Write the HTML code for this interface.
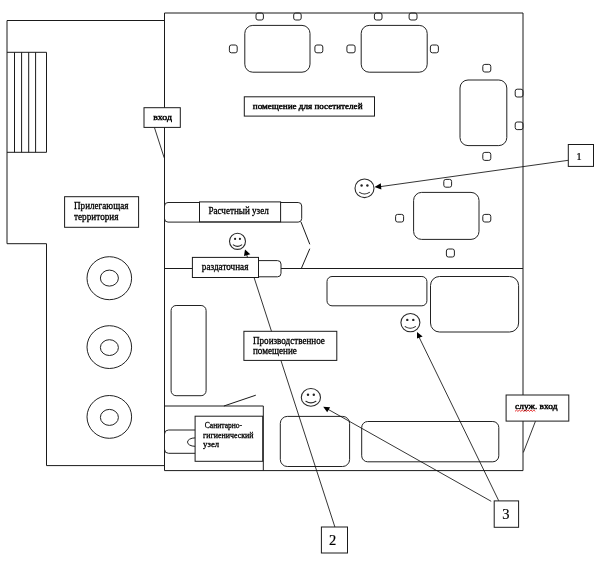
<!DOCTYPE html>
<html lang="ru">
<head>
<meta charset="utf-8">
<title>План</title>
<style>
html,body{margin:0;padding:0;background:#fff;}
body{width:600px;height:562px;overflow:hidden;}
svg{display:block;will-change:transform;transform:translateZ(0);}
text{font-family:"Liberation Serif","DejaVu Serif",serif;fill:#000;stroke:#000;stroke-width:.2;}
.w{stroke:#1a1a1a;stroke-width:1;fill:none;}
.r{stroke:#222;stroke-width:1;fill:#fff;}
.rn{stroke:#222;stroke-width:1;fill:none;}
.sm{stroke:#2a2a2a;stroke-width:1.1;fill:none;stroke-linecap:round;}
.a{stroke:#111;stroke-width:.85;fill:none;}
.b{stroke:#1a1a1a;stroke-width:1;fill:#fff;}
.s{font-size:8px;stroke-width:.4;}
.n{font-size:8.6px;stroke-width:.3;}
.m{font-size:9.6px;stroke-width:.3;}
</style>
</head>
<body>
<svg width="600" height="562" viewBox="0 0 600 562">
<rect x="0" y="0" width="600" height="562" fill="#fff"/>

<!-- adjoining territory outline -->
<path class="w" d="M164.5 20.5 H7 V243.7 H46.5 V465.6 H164.5"/>
<!-- stairs -->
<path class="w" d="M7 52.3 H46.5 V152.3 H7 M14.5 52.3 V152.3 M21.6 52.3 V152.3 M28.7 52.3 V152.3 M35.6 52.3 V152.3"/>

<!-- main building -->
<path class="w" d="M164.5 13 H523 V470.6 H164.5 Z"/>
<!-- divider -->
<path class="w" d="M164.5 268.5 H523"/>

<!-- circles -->
<g class="rn">
<ellipse cx="109.3" cy="278.2" rx="22.3" ry="21.5"/><ellipse cx="109.4" cy="278.1" rx="9" ry="8"/>
<ellipse cx="109.3" cy="347.1" rx="22.3" ry="21.4"/><ellipse cx="109.4" cy="347.6" rx="9" ry="7.9"/>
<ellipse cx="109.3" cy="416.9" rx="22.3" ry="21.4"/><ellipse cx="109.4" cy="417.4" rx="9" ry="8"/>
</g>

<!-- tables -->
<g class="rn">
<rect x="244.8" y="25.4" width="65.2" height="46.8" rx="8" ry="8"/>
<rect x="256.0" y="13.0" width="7.4" height="7.0" rx="2"/>
<rect x="293.7" y="13.0" width="7.5" height="7.0" rx="2"/>
<rect x="229.4" y="45.0" width="7.8" height="7.8" rx="2"/>
<rect x="314.9" y="45.0" width="7.9" height="7.8" rx="2"/>

<rect x="361.2" y="25.4" width="66" height="46.8" rx="8" ry="8"/>
<rect x="374.4" y="13.0" width="7.6" height="7.0" rx="2"/>
<rect x="409.1" y="13.0" width="7.9" height="7.0" rx="2"/>
<rect x="346.9" y="45.0" width="8.2" height="7.8" rx="2"/>
<rect x="430.4" y="45.0" width="8.0" height="7.8" rx="2"/>

<rect x="460" y="80" width="46.8" height="65.6" rx="8" ry="8"/>
<rect x="482.8" y="64.4" width="8.0" height="7.6" rx="2"/>
<rect x="482.8" y="152.4" width="8.0" height="8.0" rx="2"/>
<rect x="515.2" y="89.2" width="7.8" height="7.8" rx="2"/>
<rect x="515.2" y="122.0" width="7.8" height="7.6" rx="2"/>

<rect x="413.6" y="192.4" width="65.4" height="47" rx="8" ry="8"/>
<rect x="443.8" y="179.4" width="7.8" height="7.8" rx="2"/>
<rect x="446.4" y="249.0" width="8.0" height="8.0" rx="2"/>
<rect x="395.6" y="214.4" width="8.0" height="7.6" rx="2"/>
<rect x="482.8" y="214.4" width="8.0" height="7.6" rx="2"/>
</g>

<!-- production room equipment -->
<g class="rn">
<rect x="327" y="276.5" width="99.9" height="29.3" rx="5"/>
<rect x="430.5" y="276.5" width="88.1" height="55.5" rx="9"/>
<rect x="171.1" y="305.5" width="35" height="90.2" rx="5"/>
<rect x="280.3" y="416.4" width="69.3" height="50.1" rx="7"/>
<rect x="361.7" y="421.5" width="137.1" height="40.3" rx="6"/>
</g>

<!-- counter -->
<rect class="rn" x="164.5" y="202.5" width="137.2" height="19.6" rx="3.5"/>
<path class="w" d="M301 222 L309.8 244.3 M309.8 248.7 L301.4 268.3"/>
<rect class="r" x="240" y="260.6" width="41" height="16.2" rx="3.5"/>

<!-- sanitary room -->
<path class="w" d="M164.5 406 H263.3 V470.6"/>
<path class="w" d="M223.9 406 L255.8 395.2"/>
<rect class="rn" x="164.5" y="430" width="50" height="23.3" rx="4"/>
<ellipse class="rn" cx="195" cy="442.1" rx="7.5" ry="4.2"/>

<!-- arrows -->
<g class="a">
<path d="M568.3 160.3 L377 187.1"/>
<path d="M334.9 527 L245.8 252"/>
<path d="M491.2 501.3 L325 407.6"/>
<path d="M498.8 500.9 L418.5 336"/>
</g>
<g fill="#000" stroke="none">
<polygon points="374.5,187 380.8,183.2 381.4,189.5"/>
<polygon points="245,249.4 250.3,254.2 244,256"/>
<polygon points="323.2,406.7 330.1,407.2 327.2,412.2"/>
<polygon points="417,332 422.6,336.4 417,338.6"/>
</g>

<!-- smileys -->
<g class="sm">
<ellipse cx="364.5" cy="188.3" rx="9.5" ry="9.3"/>
<path d="M359.6 192.4 Q364.5 195.7 369.4 192.4"/>
<ellipse cx="237.5" cy="241.3" rx="8.0" ry="8.1"/>
<path d="M233.3 244.9 Q237.5 247.8 241.7 244.9"/>
<ellipse cx="310.9" cy="397.4" rx="9.6" ry="8.9"/>
<path d="M305.9 401.3 Q310.9 404.5 315.9 401.3"/>
<ellipse cx="410.4" cy="322.6" rx="9.5" ry="9.1"/>
<path d="M405.2 326.6 Q410.3 329.9 415.4 326.6"/>
</g>
<g fill="#222">
<circle cx="361.6" cy="185.5" r="1.2"/><circle cx="367.4" cy="185.5" r="1.2"/>
<circle cx="235.1" cy="238.9" r="1.1"/><circle cx="239.9" cy="238.9" r="1.1"/>
<circle cx="308.0" cy="394.7" r="1.2"/><circle cx="313.8" cy="394.7" r="1.2"/>
<circle cx="407.3" cy="319.9" r="1.2"/><circle cx="413.3" cy="319.9" r="1.2"/>
</g>

<!-- callouts -->
<path class="a" d="M154.4 127.4 L164.2 157.8"/>
<rect class="b" x="144" y="107.7" width="36.3" height="19.7"/>
<text class="s" x="153.2" y="119.9" textLength="18.8" lengthAdjust="spacingAndGlyphs">вход</text>

<path class="a" d="M535.5 421.1 L523.4 452.4"/>
<rect class="b" x="506.1" y="395" width="62.7" height="26.1"/>
<text class="s" x="515.1" y="409.3" textLength="42.4" lengthAdjust="spacingAndGlyphs">служ. вход</text>
<path d="M515 411.4 l1.45 -1.3 l1.45 1.3 l1.45 -1.3 l1.45 1.3 l1.45 -1.3 l1.45 1.3 l1.45 -1.3 l1.45 1.3 l1.45 -1.3 l1.45 1.3 l1.45 -1.3 l1.45 1.3 l1.45 -1.3 l1.45 1.3" stroke="#e01010" stroke-width="0.85" fill="none"/>

<!-- labels -->
<rect class="b" x="244.3" y="96.8" width="130.2" height="19.3"/>
<text class="s" x="252.8" y="109.3" textLength="109.7" lengthAdjust="spacingAndGlyphs">помещение для посетителей</text>

<rect class="b" x="64.6" y="196.7" width="74" height="30.6"/>
<text class="m" x="74" y="209" textLength="54.4" lengthAdjust="spacingAndGlyphs">Прилегающая</text>
<text class="m" x="74" y="220" textLength="44.5" lengthAdjust="spacingAndGlyphs">территория</text>

<rect class="b" x="199.5" y="201.9" width="81.1" height="19.9"/>
<text class="m" x="208.4" y="214" textLength="60.4" lengthAdjust="spacingAndGlyphs">Расчетный узел</text>

<rect class="b" x="192.4" y="257.4" width="66.1" height="20.1"/>
<text class="m" x="201.8" y="269.5" textLength="46.6" lengthAdjust="spacingAndGlyphs">раздаточная</text>

<rect class="b" x="243.9" y="331.3" width="92.9" height="29.1"/>
<text class="m" x="253" y="343.8" textLength="71.9" lengthAdjust="spacingAndGlyphs">Производственное</text>
<text class="m" x="253" y="353.9" textLength="43.8" lengthAdjust="spacingAndGlyphs">помещение</text>

<rect class="b" x="195.1" y="416.2" width="67.6" height="45.1"/>
<text class="n" x="204.8" y="427.7" textLength="37.3" lengthAdjust="spacingAndGlyphs">Санитарно-</text>
<text class="n" x="203.1" y="437.7" textLength="50.5" lengthAdjust="spacingAndGlyphs">гигиенический</text>
<text class="n" x="203.1" y="446.6" textLength="16" lengthAdjust="spacingAndGlyphs">узел</text>

<!-- number boxes -->
<rect class="b" x="568.3" y="144.5" width="25.2" height="21.9"/>
<text x="576.2" y="159.7" font-size="11" stroke-width="0">1</text>
<rect class="b" x="321.4" y="527" width="26.1" height="26"/>
<text x="329" y="544.8" font-size="14.5" stroke-width=".4">2</text>
<rect class="b" x="494.2" y="500.9" width="24.4" height="26.4"/>
<text x="502.2" y="519.3" font-size="14.5" stroke-width=".4">3</text>
</svg>
</body>
</html>
